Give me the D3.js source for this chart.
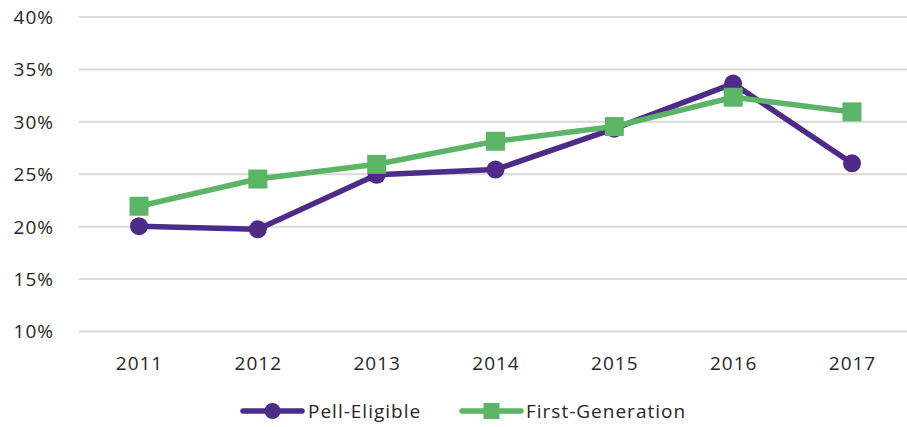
<!DOCTYPE html>
<html><head><meta charset="utf-8">
<script src="https://cdn.jsdelivr.net/npm/d3@7"></script>
<style>body{margin:0;background:#fff}svg{display:block}</style>
</head><body>
<script>
const years = ["2011","2012","2013","2014","2015","2016","2017"];
const pellEligible = [0.200, 0.197, 0.249, 0.254, 0.293, 0.336, 0.260];
const firstGeneration = [0.219, 0.245, 0.259, 0.281, 0.295, 0.323, 0.309];
const yTicks = [0.10, 0.15, 0.20, 0.25, 0.30, 0.35, 0.40];
const seriesNames = ["Pell-Eligible", "First-Generation"];
const colors = ["#4f2b88", "#5cb566"];

const W = 907, H = 427;
const svg = d3.select("body").append("svg").attr("width", W).attr("height", H);
const font = "'Open Sans', sans-serif";
const textColor = "#262626";

const x = d3.scalePoint().domain(years).range([139, 852]);
const y = d3.scaleLinear().domain([0.10, 0.40]).range([331, 16.5]);

// gridlines
const yAxis = d3.axisLeft(y).tickValues(yTicks).tickSize(-(907 - 79)).tickFormat(d3.format(".0%"));
const gy = svg.append("g").attr("transform", "translate(79,0)").call(yAxis);
gy.select(".domain").remove();
gy.selectAll(".tick line").attr("stroke", "#d9d9d9").attr("stroke-width", 2);
gy.selectAll(".tick text").attr("x", -25).attr("dy", "0.36em")
  .style("font-family", font).style("font-size", "19px").style("letter-spacing", "1px")
  .attr("fill", textColor);

const xAxis = d3.axisBottom(x).tickSize(0).tickPadding(0);
const gx = svg.append("g").attr("transform", "translate(0,331)").call(xAxis);
gx.select(".domain").remove();
gx.selectAll(".tick text").attr("y", 39).attr("dy", 0)
  .style("font-family", font).style("font-size", "19px").style("letter-spacing", "1px")
  .attr("fill", textColor);

const line = d3.line().x((d, i) => x(years[i])).y(d => y(d));

// Pell-Eligible
svg.append("path").datum(pellEligible).attr("d", line)
  .attr("fill", "none").attr("stroke", colors[0]).attr("stroke-width", 5.5).attr("stroke-linejoin", "round");
svg.selectAll(".pell").data(pellEligible).join("circle").attr("class", "pell")
  .attr("cx", (d, i) => x(years[i])).attr("cy", d => y(d)).attr("r", 9).attr("fill", colors[0]);

// First-Generation
svg.append("path").datum(firstGeneration).attr("d", line)
  .attr("fill", "none").attr("stroke", colors[1]).attr("stroke-width", 5.5).attr("stroke-linejoin", "round");
const s = 19;
svg.selectAll(".fg").data(firstGeneration).join("rect").attr("class", "fg")
  .attr("x", (d, i) => x(years[i]) - s / 2).attr("y", d => y(d) - s / 2)
  .attr("width", s).attr("height", s).attr("fill", colors[1]);

// legend
const legY = 411;
const leg = [{x0: 243, tx: 308}, {x0: 462, tx: 526}];
seriesNames.forEach((name, i) => {
  const g = svg.append("g");
  g.append("line").attr("x1", leg[i].x0).attr("x2", leg[i].x0 + 59).attr("y1", legY).attr("y2", legY)
    .attr("stroke", colors[i]).attr("stroke-width", 5.5).attr("stroke-linecap", "round");
  const cx = leg[i].x0 + 29.5;
  if (i === 0) g.append("circle").attr("cx", cx).attr("cy", legY).attr("r", 8).attr("fill", colors[i]);
  else g.append("rect").attr("x", cx - 8).attr("y", legY - 8).attr("width", 16).attr("height", 16).attr("fill", colors[i]);
  g.append("text").attr("x", leg[i].tx).attr("y", legY).attr("dy", "0.36em")
    .style("font-family", font).style("font-size", "19px").style("letter-spacing", "1px")
    .attr("fill", textColor).text(name);
});
</script>
</body></html>
